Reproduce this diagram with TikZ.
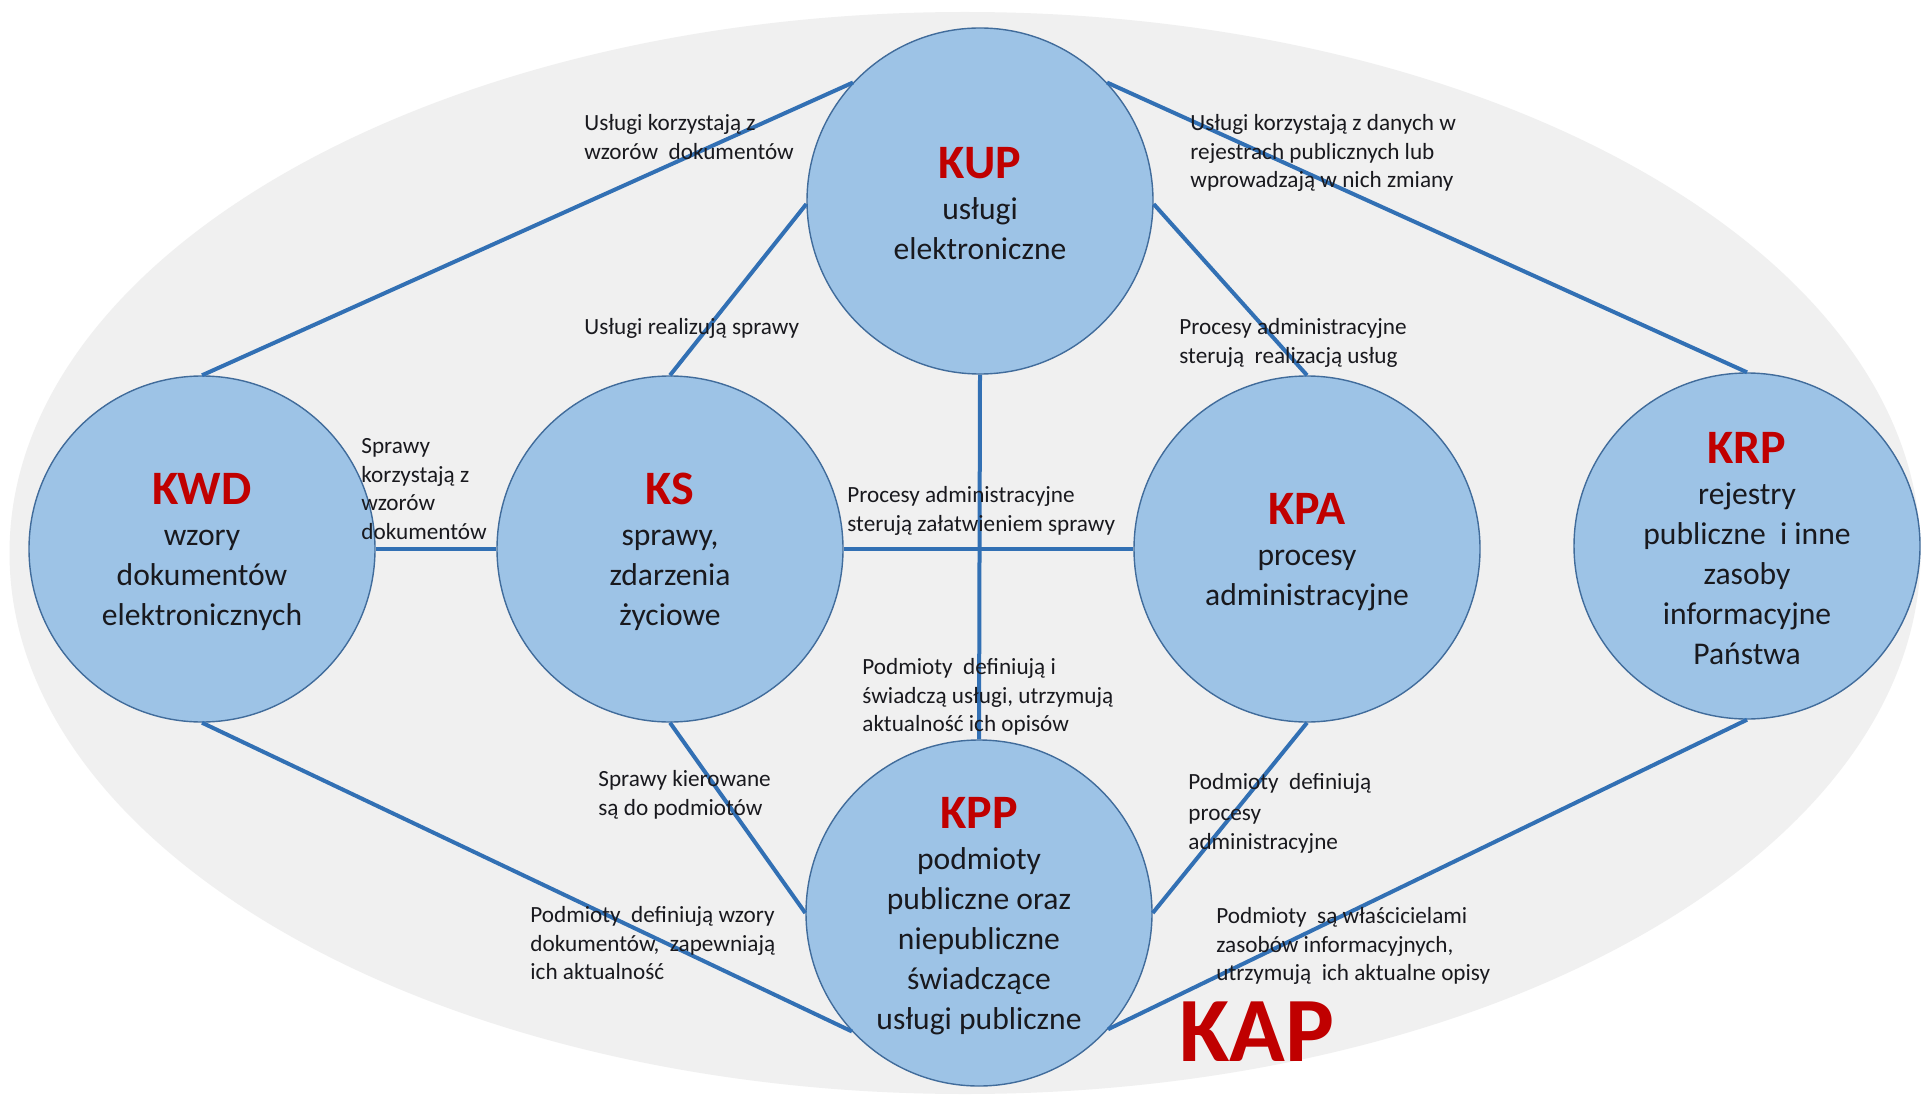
\documentclass[tikz,border=0pt]{standalone}
\usepackage{fontspec}
\setmainfont{Carlito}
\definecolor{bgell}{RGB}{240,240,240}
\definecolor{bubfill}{RGB}{157,195,230}
\definecolor{bubdraw}{RGB}{65,108,155}
\definecolor{linkc}{RGB}{50,112,180}
\definecolor{titlered}{RGB}{192,0,0}
\definecolor{txt}{RGB}{25,25,30}
\tikzset{
  bub/.style={circle, fill=bubfill, draw=bubdraw, line width=0.7pt, inner sep=0pt, minimum size=173pt},
  btxt/.style={align=center, inner sep=0pt, text=txt, font=\fontsize{15.8}{20}\selectfont},
  lbl/.style={align=left, anchor=north west, inner sep=0pt, text=txt, font=\fontsize{11.6}{14.3}\selectfont},
  conn/.style={draw=linkc, line width=2pt},
}
\newcommand{\ttl}[1]{{\fontsize{24}{28}\selectfont\bfseries\color{titlered}#1}}
\begin{document}
\begin{tikzpicture}[x=0.5pt,y=-0.5pt]
\useasboundingbox (0,0) rectangle (1931,1096);
\fill[white] (0,0) rectangle (1931,1096);
\fill[bgell] (965,553) ellipse [x radius=477.75pt, y radius=270.5pt];

% circles
\node[bub] (kup) at (980,201) {};
\node[bub] (kwd) at (202,549) {};
\node[bub] (ks)  at (670,549) {};
\node[bub] (kpa) at (1307,549) {};
\node[bub] (krp) at (1747,546) {};
\node[bub] (kpp) at (979,913) {};

% connectors
\draw[conn] (kwd.90) -- (kup.137);
\draw[conn] (kup.43) -- (krp.90);
\draw[conn] (ks.90) -- (kup.181);
\draw[conn] (kup.359) -- (kpa.90);
\draw[conn] (kup.270) -- (kpp.90);
\draw[conn] (kwd.0) -- (ks.180);
\draw[conn] (ks.0) -- (kpa.180);
\draw[conn] (kwd.270) -- (kpp.223);
\draw[conn] (ks.270) -- (kpp.180);
\draw[conn] (kpa.270) -- (kpp.0);
\draw[conn] (krp.270) -- (kpp.318);

% circle texts
\node[btxt] (kuptxt) at ([yshift=-1.5pt]kup.center) {\ttl{KUP}\\[0.5pt] usługi\\ elektroniczne};
\node[btxt] (kwdtxt) at ([yshift=-1.5pt]kwd.center) {\ttl{KWD}\\[0.5pt] wzory\\ dokumentów\\ elektronicznych};
\node[btxt] (kstxt) at ([yshift=-1.5pt]ks.center) {\ttl{KS}\\[0.5pt] sprawy,\\ zdarzenia\\ życiowe};
\node[btxt] (kpatxt) at ([yshift=-1.5pt]kpa.center) {\ttl{KPA}\\[0.5pt] procesy\\ administracyjne};
\node[btxt] (krptxt) at ([yshift=-1.5pt]krp.center) {\ttl{KRP}\\[0.5pt] rejestry\\ publiczne~ i inne\\ zasoby\\ informacyjne\\ Państwa};
\node[btxt] (kpptxt) at ([yshift=-1.5pt]kpp.center) {\ttl{KPP}\\[0.5pt] podmioty\\ publiczne oraz\\ niepubliczne\\ świadczące\\ usługi publiczne};

% labels
\node[lbl] (l1) at (584,114) {Usługi korzystają z\\wzorów~ dokumentów};
\node[lbl] (l2) at (1190,114) {Usługi korzystają z danych w\\rejestrach publicznych lub\\wprowadzają w nich zmiany};
\node[lbl] (l3) at (584,318) {Usługi realizują sprawy};
\node[lbl] (l4) at (1179,318) {Procesy administracyjne\\sterują~ realizacją usług};
\node[lbl] (l5) at (361,438) {Sprawy\\korzystają z\\wzorów\\dokumentów};
\node[lbl] (l6) at (847,486) {Procesy administracyjne\\sterują załatwieniem sprawy};
\node[lbl] (l7) at (862,658) {Podmioty~ definiują i\\świadczą usługi, utrzymują\\aktualność ich opisów};
\node[lbl] (l8) at (598,770) {Sprawy kierowane\\są do podmiotów};
\node[lbl] (l9) at (1188,773) {Podmioty~ definiują\\[1pt]procesy\\[0.5pt]administracyjne};
\node[lbl] (l10) at (530,906) {Podmioty~ definiują wzory\\dokumentów,~ zapewniają\\ich aktualność};
\node[lbl] (l11) at (1216,907) {Podmioty~ są właścicielami\\zasobów informacyjnych,\\utrzymują~ ich aktualne opisy};

% KAP
\node[inner sep=0pt, text=titlered, font=\fontsize{46}{50}\selectfont\bfseries] (kap) at (1257,1032) {KAP};
\end{tikzpicture}
\end{document}
